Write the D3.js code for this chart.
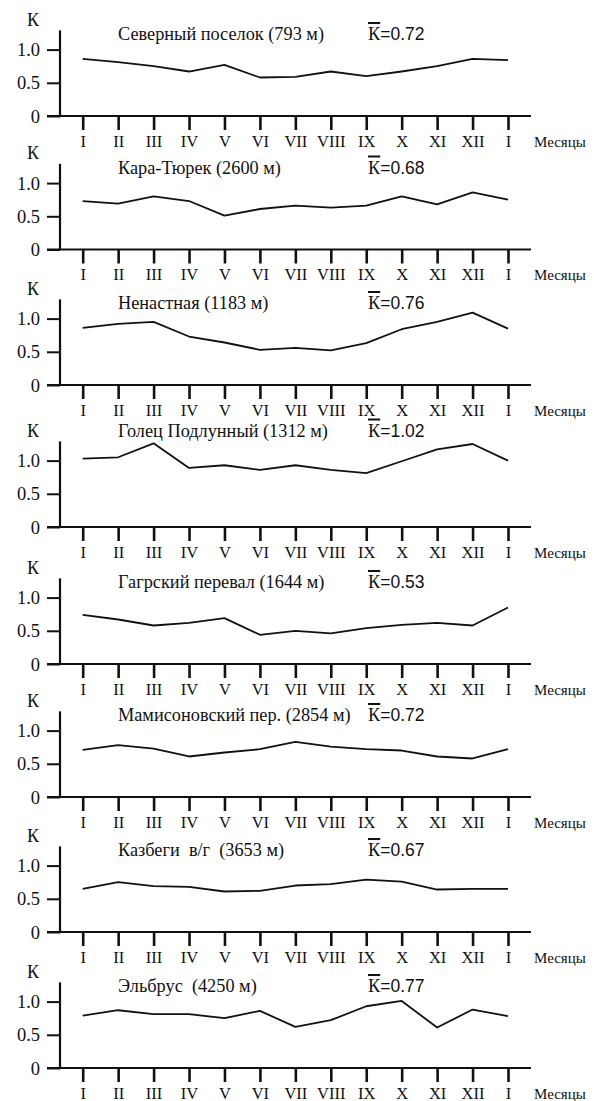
<!DOCTYPE html>
<html><head><meta charset="utf-8">
<script src="https://cdn.jsdelivr.net/npm/d3@7"></script>
<style>
html,body{margin:0;padding:0;background:#fff;}
svg{display:block;}
</style></head>
<body>
<svg id="chart" width="594" height="1101"></svg>
<script>
// ---- data ----
const months = ["I","II","III","IV","V","VI","VII","VIII","IX","X","XI","XII","I"];
const stationNames = [
  "Северный поселок (793 м)",
  "Кара-Тюрек (2600 м)",
  "Ненастная (1183 м)",
  "Голец Подлунный (1312 м)",
  "Гагрский перевал (1644 м)",
  "Мамисоновский пер. (2854 м)",
  "Казбеги  в/г  (3653 м)",
  "Эльбрус  (4250 м)"
];
const meanK = ["0.72","0.68","0.76","1.02","0.53","0.72","0.67","0.77"];
const severnyPoselok   = [0.86,0.81,0.75,0.67,0.77,0.58,0.59,0.67,0.60,0.67,0.75,0.86,0.84];
const karaTyurek       = [0.73,0.69,0.80,0.73,0.51,0.61,0.66,0.63,0.66,0.80,0.68,0.86,0.75];
const nenastnaya       = [0.86,0.92,0.95,0.73,0.64,0.53,0.56,0.52,0.63,0.84,0.95,1.09,0.85];
const golets           = [1.03,1.05,1.26,0.89,0.93,0.86,0.93,0.86,0.81,0.99,1.17,1.25,1.00];
const gagrsky          = [0.74,0.67,0.58,0.62,0.69,0.44,0.50,0.46,0.54,0.59,0.62,0.58,0.85];
const mamisonsky       = [0.71,0.78,0.73,0.61,0.67,0.72,0.83,0.76,0.72,0.70,0.61,0.58,0.72];
const kazbegi          = [0.65,0.75,0.69,0.68,0.61,0.62,0.70,0.72,0.79,0.76,0.64,0.65,0.65];
const elbrus           = [0.79,0.87,0.81,0.81,0.75,0.86,0.62,0.72,0.93,1.01,0.61,0.88,0.78];
const series = [severnyPoselok,karaTyurek,nenastnaya,golets,gagrsky,mamisonsky,kazbegi,elbrus];
const yTicks = [0,0.5,1.0];
const yTickLabels = ["0","0.5","1.0"];
const xLabel = "Месяцы";
const yLabel = "К";

// ---- layout ----
const svg = d3.select("#chart");
const serif = "'Liberation Serif','Times New Roman',serif";
const sans = "'Liberation Sans',Arial,sans-serif";
const panelBase = [116, 249.5, 385, 527, 664, 797, 932, 1068];
const axisX = 60, unit = 66.4;
const x = d3.scaleLinear().domain([0, months.length-1]).range([82.7, 508]);

series.forEach((vals, i) => {
  const base = panelBase[i];
  const y = d3.scaleLinear().domain([0,1]).range([base, base-unit]);
  const g = svg.append("g");

  // y axis
  const ya = g.append("g").attr("transform",`translate(${axisX},0)`)
    .call(d3.axisLeft(y).tickValues(yTicks).tickSize(13).tickSizeOuter(0)
      .tickFormat((d,k)=>yTickLabels[k]).tickPadding(7));
  ya.attr("font-family",serif).attr("font-size",18.5);
  ya.select(".domain").remove();
  ya.selectAll(".tick line").attr("stroke","#111").attr("stroke-width",2);
  ya.selectAll(".tick text").attr("font-family",serif).attr("font-size",18.5).attr("fill","#111").attr("dy","0.33em");
  g.append("line").attr("x1",axisX).attr("x2",axisX).attr("y1",y(0)).attr("y2",y(1.29))
    .attr("stroke","#111").attr("stroke-width",2.2);

  // baseline
  g.append("line").attr("x1",47).attr("x2",531).attr("y1",y(0)).attr("y2",y(0))
    .attr("stroke","#111").attr("stroke-width",2.2);

  // x axis
  const xa = g.append("g").attr("transform",`translate(0,${base})`)
    .call(d3.axisBottom(x).tickValues(d3.range(months.length)).tickSize(14)
      .tickFormat(k=>months[k]).tickPadding(4));
  xa.attr("font-family",serif).attr("font-size",16.5);
  xa.select(".domain").remove();
  xa.selectAll(".tick line").attr("stroke","#111").attr("stroke-width",2.6);
  xa.selectAll(".tick text").attr("font-family",serif).attr("font-size",16.5).attr("fill","#111")
    .attr("y",30.5).attr("dy",0);

  g.append("text").attr("x",534).attr("y",base+30.5).attr("font-family",serif).attr("font-size",15)
    .attr("fill","#111").text(xLabel);

  // K label
  g.append("text").attr("x",27).attr("y",base-90.5).attr("font-family",serif).attr("font-size",18)
    .attr("fill","#111").text(yLabel);

  // title
  const ty = base - (i===3 ? 90.5 : 76);
  g.append("text").attr("x",118).attr("y",ty).attr("font-family",serif).attr("font-size",18.3)
    .attr("fill","#111").style("white-space","pre").text(stationNames[i]);
  const mk = g.append("text").attr("x",368).attr("y",ty).attr("font-family",sans).attr("font-size",17.5)
    .attr("fill","#111");
  mk.append("tspan").attr("font-family",serif).attr("font-size",18.3).text("К");
  mk.append("tspan").text("=" + meanK[i]);
  const kw = mk.select("tspan").node().getComputedTextLength();
  g.append("line").attr("x1",368).attr("x2",368+kw).attr("y1",ty-17).attr("y2",ty-17)
    .attr("stroke","#111").attr("stroke-width",2);

  // data line
  g.append("path").datum(vals)
    .attr("d", d3.line().x((d,k)=>x(k)).y(d=>y(d)))
    .attr("fill","none").attr("stroke","#111").attr("stroke-width",1.8).attr("stroke-linejoin","round");
});
</script>
</body></html>
